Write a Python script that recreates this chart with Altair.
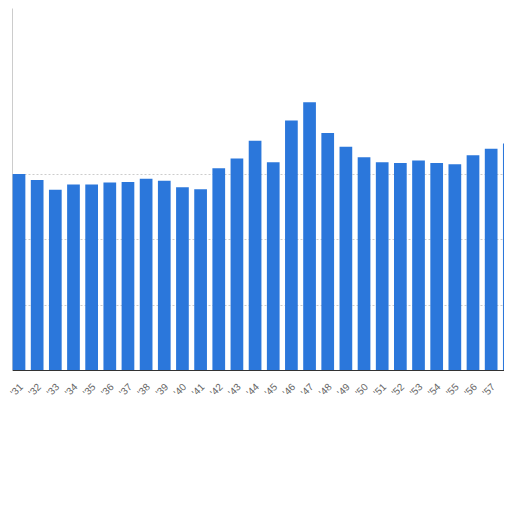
import altair as alt
import pandas as pd

years = [31, 32, 33, 34, 35, 36, 37, 38, 39, 40, 41, 42, 43, 44, 45, 46, 47, 48, 49, 50,
         51, 52, 53, 54, 55, 56, 57, 58]
values = [3.00, 2.91, 2.76, 2.84, 2.84, 2.87, 2.88, 2.93, 2.90, 2.80, 2.77, 3.09, 3.24, 3.51,
          3.18, 3.82, 4.10, 3.63, 3.42, 3.26, 3.18, 3.17, 3.21, 3.17, 3.15, 3.29, 3.39, 3.47]
half_width = 0.35

df = pd.DataFrame({"year": years, "value": values})
df["x0"] = df["year"] - half_width
df["x1"] = df["year"] + half_width
df["base"] = 0.0

chart = alt.Chart(df).mark_bar(color="#2b77db", clip=True).encode(
    x=alt.X("x0:Q",
            scale=alt.Scale(domain=[30.6145, 57.707], nice=False, zero=False),
            axis=alt.Axis(values=years, labelExpr="\"'\" + datum.value", title=None,
                          grid=False, ticks=False, domainColor="#333333",
                          labelAngle=-45, labelAlign="right", labelBaseline="middle",
                          labelFontSize=10, labelColor="#666666", labelPadding=15,
                          labelOffset=2,
                          labelFlush=False, labelOverlap=False, labelBound=False,
                          labelFont="Arial")),
    x2="x1:Q",
    y=alt.Y("value:Q",
            scale=alt.Scale(domain=[0, 5.544], nice=False),
            axis=alt.Axis(values=[1, 2, 3], labels=False, ticks=False, title=None,
                          grid=True, gridColor="#cccccc", gridDash=[2, 2],
                          domainColor="#cccccc")),
    y2="base:Q",
).properties(
    width=492, height=362,
    padding={"left": 4, "top": 0, "right": 0, "bottom": 60},
    autosize=alt.AutoSizeParams(type="none"),
).configure_view(stroke=None)

chart.save("out.html", embed_options={"renderer": "svg", "actions": False})
